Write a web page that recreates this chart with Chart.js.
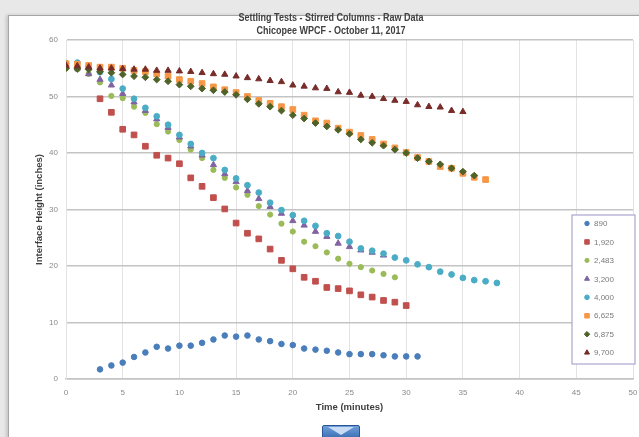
<!DOCTYPE html>
<html>
<head>
<meta charset="utf-8">
<script src="https://cdn.jsdelivr.net/npm/chart.js@4"></script>
<style>
  body { margin: 0; background: #e8e8e8; overflow: hidden; }
  #wrap { position: relative; width: 639px; height: 437px; overflow: hidden; }
  #panel { position: absolute; left: 8px; top: 15px; width: 640px; height: 430px;
           background: #fff; border: 1px solid #a6a6a6; box-shadow: -2px 0 3px rgba(0,0,0,0.15); }
  #chart { position: absolute; left: 0; top: 0; }
  #nav { position: absolute; left: 322px; top: 425px; width: 36px; height: 15px;
         background: linear-gradient(#6f9fda, #2f64ab); border: 1px solid #2a5597; border-radius: 2px; }
  #nav:after { content: ''; position: absolute; left: 5px; top: 1px; border-left: 13px solid transparent;
               border-right: 13px solid transparent; border-top: 8px solid #c9dcf3; }
</style>
</head>
<body>
<div id="wrap">
  <div id="panel"></div>
  <canvas id="chart" width="639" height="437"></canvas>
  <div id="nav"></div>
</div>
<script>
// minutes since start of each test
var minutes = [0,1,2,3,4,5,6,7,8,9,10,11,12,13,14,15,16,17,18,19,
               20,21,22,23,24,25,26,27,28,29,30,31,32,33,34,35,36,37,38];

// legend labels (mg/L)
var seriesNames = ['890','1,920','2,483','3,200','4,000','6,625','6,875','9,700'];

// interface height (inches), one value per minute, null = no reading
var s890  = [null,null,null,1.7,2.4,2.9,3.9,4.7,5.7,5.4,5.9,5.9,6.4,7.0,7.7,7.5,7.7,7.0,6.7,6.2,
             6.0,5.4,5.2,5.0,4.7,4.4,4.4,4.4,4.2,4.0,4.0,4.0,null,null,null,null,null,null,null];
var s1920 = [null,null,null,49.6,47.2,44.2,43.2,41.2,39.6,39.1,38.1,35.6,34.1,32.1,30.1,27.6,25.8,24.8,23.0,21.0,
             19.5,18.0,17.3,16.2,16.0,15.6,14.9,14.5,13.9,13.6,13.0,null,null,null,null,null,null,null,null];
var s2483 = [55.0,54.8,54.0,52.5,50.1,49.7,48.2,47.1,45.1,43.8,42.3,40.6,39.1,37.0,35.6,33.9,32.6,30.6,29.1,27.5,
             26.1,24.3,23.5,22.4,21.3,20.4,19.8,19.2,18.6,18.0,null,null,null,null,null,null,null,null,null];
var s3200 = [55.3,55.0,54.0,53.0,52.0,50.5,49.0,47.5,46.0,44.5,42.8,41.2,39.6,37.9,36.3,34.9,33.3,31.9,30.5,29.3,
             28.0,27.2,26.1,25.2,24.0,23.4,22.8,22.4,21.9,null,null,null,null,null,null,null,null,null,null];
var s4000 = [55.9,56.0,55.3,54.3,53.1,51.4,49.6,48.0,46.5,45.0,43.2,41.6,40.0,39.1,37.0,35.5,34.3,33.0,31.2,29.9,
             29.0,28.0,27.1,25.8,25.3,24.3,23.1,22.7,22.2,21.5,21.0,20.3,19.8,19.0,18.5,17.9,17.5,17.3,17.0];
var s6625 = [55.8,55.7,55.5,55.2,55.2,55.0,54.6,54.4,54.0,53.6,53.0,52.7,52.3,51.7,51.2,50.7,50.0,49.3,48.8,48.2,
             47.7,46.7,45.7,45.3,44.4,43.7,43.1,42.4,41.6,40.9,40.1,39.2,38.5,37.6,37.3,36.4,35.7,35.3,null];
var s6875 = [55.0,54.9,54.8,54.4,54.2,53.9,53.6,53.4,53.0,52.7,52.1,51.8,51.4,51.1,50.8,50.3,49.5,48.7,48.2,47.5,
             46.7,46.1,45.3,44.7,44.1,43.4,42.4,41.8,41.3,40.6,40.0,39.1,38.5,38.0,37.3,36.7,36.0,null,null];
var s9700 = [55.5,55.4,55.2,55.0,55.0,54.9,54.8,54.8,54.6,54.6,54.5,54.4,54.2,54.0,53.9,53.6,53.3,53.1,52.8,52.6,
             52.0,51.8,51.5,51.4,50.8,50.7,50.2,50.0,49.6,49.3,49.1,48.5,48.2,48.1,47.5,47.3,null,null,null];

var allSeries = [s890, s1920, s2483, s3200, s4000, s6625, s6875, s9700];
var colors = ['#4a7ebb','#c0504d','#9bbb59','#8064a2','#4bacc6','#f79646','#4f6228','#772c2a'];
var styles = ['circle','rect','circle','triangle','circle','rect','rectRot','triangle'];
var radii  = [2.8, 4.0, 2.6, 3.6, 2.9, 4.0, 3.4, 3.6];

function toPoints(vals) {
  var pts = [];
  for (var i = 0; i < minutes.length; i++) {
    if (vals[i] !== null) pts.push({x: minutes[i], y: vals[i]});
  }
  return pts;
}

var datasets = allSeries.map(function (vals, i) {
  return {
    label: seriesNames[i],
    data: toPoints(vals),
    pointStyle: styles[i],
    pointRadius: radii[i],
    backgroundColor: colors[i],
    borderColor: colors[i],
    borderWidth: 1,
    order: allSeries.length - i   // later series on top, like Excel
  };
});

var SANS = '"Liberation Sans", Arial, sans-serif';

// chart title + boxed legend inside the plot
var extras = {
  id: 'extras',
  afterDraw: function (chart) {
    var ctx = chart.ctx;
    ctx.save();
    ctx.fillStyle = '#404040';
    ctx.textAlign = 'center';
    ctx.textBaseline = 'middle';
    ctx.font = 'bold 10px ' + SANS;
    // squeeze a little, the original uses a narrow face
    ctx.save();
    ctx.translate(331, 0);
    ctx.scale(0.9, 1);
    ctx.fillText('Settling Tests - Stirred Columns - Raw Data', 0, 18);
    ctx.fillText('Chicopee WPCF - October 11, 2017', 0, 31);
    ctx.restore();

    // legend box
    ctx.fillStyle = '#ffffff';
    ctx.fillRect(572, 215, 63, 149);
    ctx.strokeStyle = '#a9a7cf';
    ctx.lineWidth = 1.2;
    ctx.strokeRect(572, 215, 63, 149);
    ctx.textAlign = 'left';
    ctx.font = '8px ' + SANS;
    chart.data.datasets.forEach(function (ds, i) {
      var y = 223.5 + i * 18.45;
      ctx.fillStyle = ds.backgroundColor;
      ctx.strokeStyle = ds.borderColor;
      ctx.lineWidth = 1;
      Chart.helpers.drawPoint(ctx, {pointStyle: ds.pointStyle, radius: ds.pointRadius * 0.8, rotation: 0, borderWidth: 1}, 587, y);
      ctx.fillStyle = '#7a7a7a';
      ctx.fillText(ds.label, 594, y + 0.5);
    });
    ctx.restore();
  }
};

new Chart(document.getElementById('chart'), {
  type: 'scatter',
  data: { datasets: datasets },
  options: {
    responsive: false,
    animation: false,
    layout: { padding: { left: 30, right: 6, top: 40, bottom: 20 } },
    plugins: { legend: { display: false }, tooltip: { enabled: false } },
    scales: {
      x: {
        min: 0, max: 50,
        ticks: { stepSize: 5, color: '#8a8a8a', font: { family: SANS, size: 8 }, padding: 9 },
        grid: { color: '#e3e3e3', lineWidth: 1, drawTicks: false },
        border: { color: '#c4c4c4', width: 1.5 },
        title: { display: true, text: 'Time (minutes)', color: '#404040',
                 font: { family: SANS, size: 9.5, weight: 'bold' }, padding: { top: 0, bottom: 4 } },
        afterFit: function (s) { s.height = 38; s.paddingLeft = 0; s.paddingRight = 0; }
      },
      y: {
        min: 0, max: 60,
        ticks: { stepSize: 10, color: '#8a8a8a', font: { family: SANS, size: 8 }, padding: 8 },
        grid: { color: '#c4c4c4', lineWidth: 1.5, drawTicks: false },
        border: { color: '#e3e3e3', width: 1 },
        title: { display: true, text: 'Interface Height (inches)', color: '#404040',
                 font: { family: SANS, size: 9.5, weight: 'bold' }, padding: { top: 4, bottom: 0 } },
        afterFit: function (s) { s.width = 36; s.paddingTop = 0; s.paddingBottom = 0; }
      }
    }
  },
  plugins: [extras]
});
</script>
</body>
</html>
